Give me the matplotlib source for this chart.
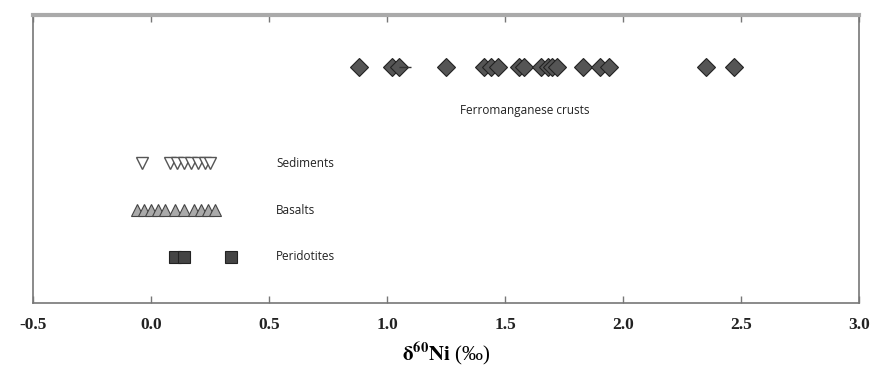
import matplotlib
matplotlib.use('Agg')
import matplotlib.pyplot as plt

# d60Ni values
crusts = [0.88, 1.02, 1.05, 1.25, 1.41, 1.44, 1.47, 1.56, 1.58, 1.65, 1.68,
          1.70, 1.72, 1.83, 1.90, 1.94, 2.35, 2.47]
sediments = [-0.04, 0.08, 0.11, 0.14, 0.17, 0.20, 0.23, 0.25]
basalts = [-0.06, -0.03, 0.0, 0.03, 0.06, 0.10, 0.14, 0.18, 0.21, 0.24, 0.27]
peridotites = [0.10, 0.14, 0.34]

labels = ['Ferromanganese crusts', 'Sediments', 'Basalts', 'Peridotites']
xticks = [-0.5, 0.0, 0.5, 1.0, 1.5, 2.0, 2.5, 3.0]

plt.rcParams['mathtext.fontset'] = 'stix'

fig = plt.figure(figsize=(8.74, 3.88), dpi=100)
ax = fig.add_axes([0.038, 0.219, 0.945, 0.742])

ax.plot(crusts, [0.82] * len(crusts), 'D', ms=9.5, mfc='#555555',
        mec='#222222', mew=0.8, ls='none')
ax.errorbar([crusts[2]], [0.82], xerr=[[0.0], [0.05]], fmt='none',
            ecolor='#333333', lw=1)
ax.plot(sediments, [0.486] * len(sediments), 'v', ms=8.5, mfc='white',
        mec='#555555', mew=1, ls='none')
ax.plot(basalts, [0.323] * len(basalts), '^', ms=8.5, mfc='#aaaaaa',
        mec='#444444', mew=0.8, ls='none')
ax.plot(peridotites, [0.16] * len(peridotites), 's', ms=8.5, mfc='#444444',
        mec='#222222', mew=0.8, ls='none')

sans = 'Open Sans'
ax.text(1.31, 0.67, labels[0], fontsize=8.5, family=sans, color='#222222',
        va='center')
for lab, y in zip(labels[1:], [0.486, 0.323, 0.16]):
    ax.text(0.53, y, lab, fontsize=8.5, family=sans, color='#222222',
            va='center')

ax.set_xlim(-0.5, 3.0)
ax.set_ylim(0, 1)
ax.set_yticks([])
ax.set_xticks(xticks)
ax.set_xticklabels(['%.1f' % t for t in xticks], family='Liberation Serif',
                   fontweight='bold', fontsize=12.5, color='#222222')
ax.tick_params(axis='x', direction='in', top=True, length=5, width=1,
               color='#777777', pad=10)
for s in ['left', 'right', 'bottom']:
    ax.spines[s].set_color('#777777')
    ax.spines[s].set_linewidth(1.2)
ax.spines['top'].set_color('#aaaaaa')
ax.spines['top'].set_linewidth(3)

ax.set_xlabel(r'$\mathbf{\delta^{60}Ni}$ (‰)', family='Liberation Serif',
              fontsize=15, labelpad=6)

fig.savefig('out.png', dpi=100)
